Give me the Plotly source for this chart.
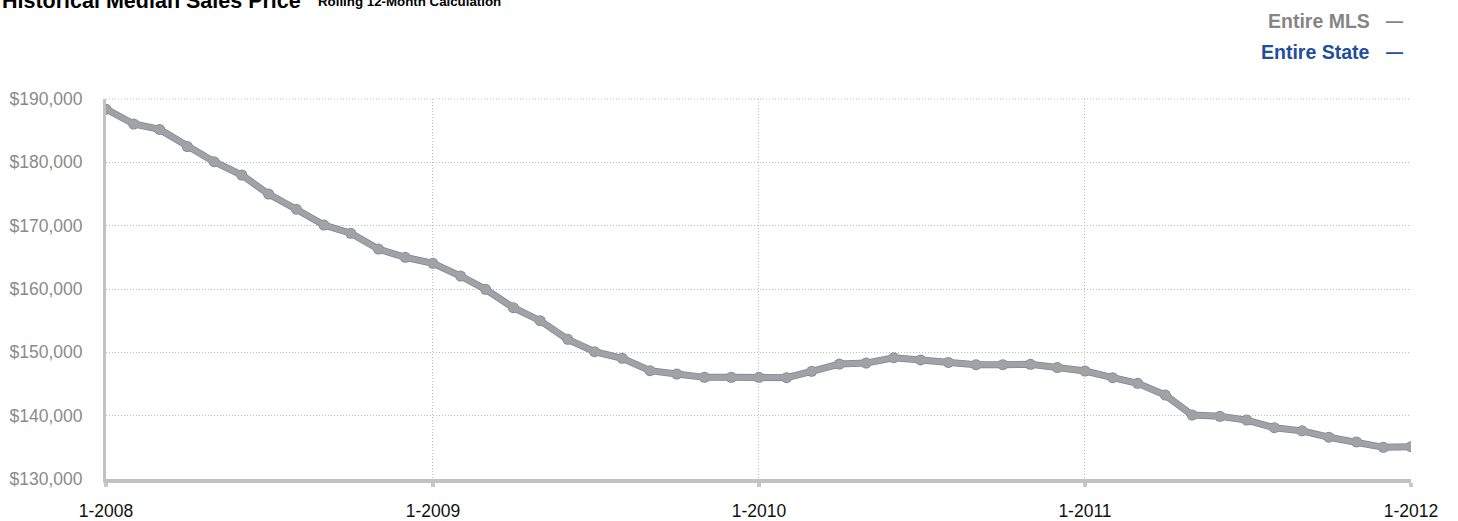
import plotly.graph_objects as go
import pandas as pd

months = pd.date_range("2008-01-01", "2012-01-01", freq="MS")

mls_values = [
    188400, 186050, 185200, 182500, 180100, 178000, 175000, 172600, 170100, 168800, 166300, 165000,
    164050, 162050, 159950, 157050, 155000, 152050, 150100, 149050, 147100, 146580, 146050, 146050,
    146050, 146000, 147000, 148150, 148300, 149150, 148800, 148400, 148050, 148050, 148100, 147600,
    147050, 146000, 145100, 143250, 140100, 139900, 139300, 138100, 137600, 136600, 135850, 135000,
    135100,
]
state_values = [
    188400, 186050, 185200, 182500, 180100, 178000, 175000, 172600, 170100, 168800, 166300, 165000,
    164050, 162050, 159950, 157050, 155000, 152050, 150100, 149050, 147100, 146580, 146050, 146050,
    146050, 146000, 147000, 148150, 148300, 149150, 148800, 148400, 148050, 148050, 148100, 147600,
    147050, 146000, 145100, 143250, 140100, 139900, 139300, 138100, 137600, 136600, 135850, 135000,
    135100,
]
series_names = ["Entire MLS", "Entire State"]
series_colors = ["#858585", "#1f4e9e"]

x_tick_vals = ["2008-01-01", "2009-01-01", "2010-01-01", "2011-01-01", "2012-01-01"]
x_tick_text = ["1-2008", "1-2009", "1-2010", "1-2011", "1-2012"]
y_tick_vals = [130000, 140000, 150000, 160000, 170000, 180000, 190000]
y_tick_text = ["$130,000", "$140,000", "$150,000", "$160,000", "$170,000", "$180,000", "$190,000"]

title_text = "Historical Median Sales Price"
subtitle_text = "Rolling 12-Month Calculation"

FONT = "Liberation Sans, Arial, Helvetica, sans-serif"
PW, PH = 1305, 380
GRID_DASH = "1px,2px"

fig = go.Figure()
fig.add_trace(go.Scatter(
    x=months, y=state_values, mode="lines+markers", name=series_names[1],
    line=dict(color="#7487aa", width=7),
    marker=dict(color="#7487aa", size=11),
    showlegend=False, hoverinfo="skip",
))
fig.add_trace(go.Scatter(
    x=months, y=mls_values, mode="lines+markers", name=series_names[0],
    line=dict(color="#a2a2a2", width=5.5),
    marker=dict(color="#a2a2a2", size=9.5),
    showlegend=False,
))

fig.update_layout(
    width=1458, height=521,
    margin=dict(l=106, r=47, t=99, b=42, autoexpand=False),
    paper_bgcolor="white", plot_bgcolor="white",
    font=dict(family=FONT),
    showlegend=False,
)
fig.update_xaxes(
    range=["2008-01-01", "2012-01-01"],
    tickvals=x_tick_vals, ticktext=x_tick_text,
    tickfont=dict(size=17.5, color="#111111"),
    showgrid=True, gridcolor="#bdbdbd", griddash=GRID_DASH, gridwidth=1,
    showline=True, linecolor="#c2c2c2", linewidth=4,
    ticks="outside", ticklen=4, tickwidth=4, tickcolor="#c8c8c8",
    ticklabelstandoff=9, automargin=False,
    zeroline=False,
)
fig.update_yaxes(
    range=[130000, 190000],
    tickvals=y_tick_vals, ticktext=y_tick_text,
    tickfont=dict(size=17.5, color="#8a8a8a"),
    showgrid=True, gridcolor="#bdbdbd", griddash=GRID_DASH, gridwidth=1,
    showline=True, linecolor="#c2c2c2", linewidth=3,
    ticks="", ticklabelstandoff=17, automargin=False,
    zeroline=False,
)
fig.add_shape(type="line", xref="paper", yref="paper", x0=0, x1=1, y0=1, y1=1,
              line=dict(color="#bdbdbd", width=1, dash=GRID_DASH), layer="below")

# Title (partly above the page edge, as in reference)
fig.add_annotation(
    text="<b>" + title_text + "</b>", xref="paper", yref="paper",
    x=-106/PW, y=1 + 84/PH, xanchor="left", yanchor="bottom",
    showarrow=False, font=dict(size=21.5, color="#000000", family=FONT),
)
fig.add_annotation(
    text="<b>" + subtitle_text + "</b>", xref="paper", yref="paper",
    x=(316-106)/PW, y=1 + 88/PH, xanchor="left", yanchor="bottom",
    showarrow=False, font=dict(size=13.3, color="#000000", family=FONT),
)
# Legend entries (text then dash)
legend_y = [21.5, 52.5]
for name, color, yy in zip(series_names, series_colors, legend_y):
    fig.add_annotation(
        text="<b>" + name + "</b>", xref="paper", yref="paper",
        x=(1372-106)/PW, y=1 + (99-yy)/PH, xanchor="right", yanchor="middle",
        showarrow=False, font=dict(size=19.5, color=color, family=FONT),
    )
    fig.add_annotation(
        text="<b>—</b>", xref="paper", yref="paper",
        x=(1394-106)/PW, y=1 + (99-yy)/PH, xanchor="center", yanchor="middle",
        showarrow=False, font=dict(size=17, color=color, family=FONT),
    )

fig.write_html("out.html", config={"displayModeBar": False},
               post_script="document.body.style.margin='0px';")
